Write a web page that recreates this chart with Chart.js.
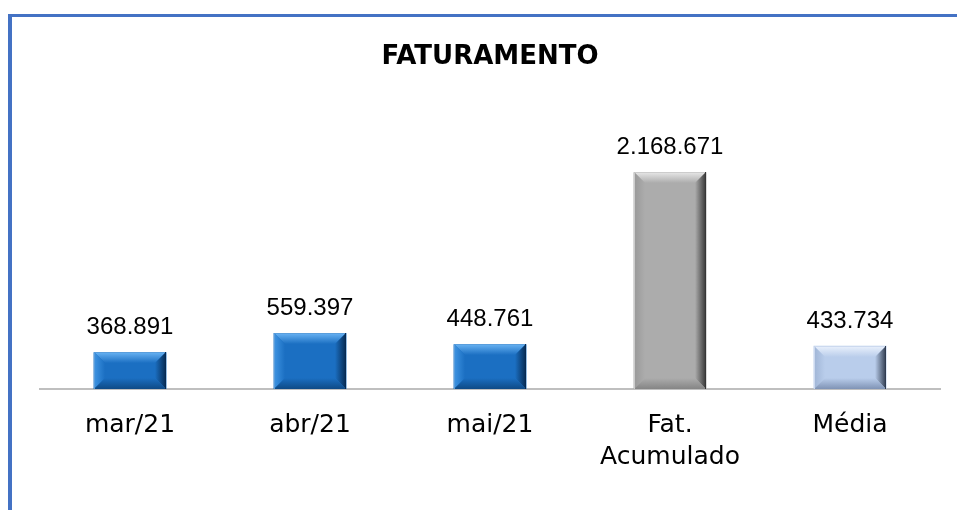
<!DOCTYPE html>
<html lang="pt-BR">
<head>
<meta charset="utf-8">
<title>Faturamento</title>
<script src="https://cdn.jsdelivr.net/npm/chart.js@4.4.1/dist/chart.umd.min.js"></script>
<style>
  html, body { margin: 0; padding: 0; background: #fff; }
  #quadro { position: relative; width: 957px; height: 510px; overflow: hidden; }
  #moldura { position: absolute; left: 8px; top: 14px; right: -10px; bottom: -10px;
             border-top: 3px solid #4472c4; border-left: 4px solid #4472c4; }
  #grafico { position: absolute; left: 0; top: 0; }
</style>
</head>
<body>
<div id="quadro">
  <div id="moldura"></div>
  <canvas id="grafico" width="957" height="510"></canvas>
</div>
<script>
// Dados do gráfico
const categorias = ['mar/21', 'abr/21', 'mai/21', ['Fat.', 'Acumulado'], 'Média'];
const valores = [368891, 559397, 448761, 2168671, 433734];
const tituloGrafico = 'FATURAMENTO';

// Paletas das barras (face, bisel topo, esquerda, direita, base)
const paletaAzul = { face: '#1b6fc2', topo: '#6ab4f4', esq: '#3f94e2', dir: '#062a52', base: '#0e4a86', borda: '#5a9edc' };
const paletaCinza = { face: '#acacac', topo: '#e8e8e8', esq: '#999999', dir: '#363636', base: '#858585', borda: '#cccccc' };
const paletaClara = { face: '#b9cdeb', topo: '#eaf1fc', esq: '#a0b5d6', dir: '#303c50', base: '#7f93b5', borda: '#ccd9ef' };
const paletas = [paletaAzul, paletaAzul, paletaAzul, paletaCinza, paletaClara];

// Formatar número no padrão brasileiro (ponto como separador de milhar)
function formatar(v) {
    return String(v).replace(/\B(?=(\d{3})+(?!\d))/g, '.');
}

// Desenhar um trapézio com degradê da borda para a face
function trapezio(ctx, pontos, gx0, gy0, gx1, gy1, corBorda, corFace) {
    const grad = ctx.createLinearGradient(gx0, gy0, gx1, gy1);
    grad.addColorStop(0, corBorda);
    grad.addColorStop(1, corFace);
    ctx.fillStyle = grad;
    ctx.beginPath();
    ctx.moveTo(pontos[0][0], pontos[0][1]);
    for (let i = 1; i < pontos.length; i++) {
        ctx.lineTo(pontos[i][0], pontos[i][1]);
    }
    ctx.closePath();
    ctx.fill();
}

// Plugin para o efeito de bisel nas barras
const biselBarras = {
    id: 'biselBarras',
    afterDatasetsDraw(chart) {
        const ctx = chart.ctx;
        const meta = chart.getDatasetMeta(0);
        ctx.save();
        meta.data.forEach(function (barra, i) {
            const c = paletas[i];
            const x0 = Math.round(barra.x - barra.width / 2);
            const x1 = Math.round(barra.x + barra.width / 2);
            const y0 = Math.round(barra.y);
            const y1 = Math.round(barra.base);
            const b = Math.min(11, (y1 - y0) / 3);

            ctx.fillStyle = c.face;
            ctx.fillRect(x0, y0, x1 - x0, y1 - y0);

            trapezio(ctx, [[x0, y0], [x1, y0], [x1 - b, y0 + b], [x0 + b, y0 + b]], x0, y0, x0, y0 + b, c.topo, c.face);
            trapezio(ctx, [[x0, y0], [x0 + b, y0 + b], [x0 + b, y1 - b], [x0, y1]], x0, y0, x0 + b, y0, c.esq, c.face);
            trapezio(ctx, [[x1, y0], [x1, y1], [x1 - b, y1 - b], [x1 - b, y0 + b]], x1, y0, x1 - b, y0, c.dir, c.face);
            trapezio(ctx, [[x0, y1], [x0 + b, y1 - b], [x1 - b, y1 - b], [x1, y1]], x0, y1, x0, y1 - b, c.base, c.face);

            ctx.lineWidth = 1;
            ctx.strokeStyle = c.borda;
            ctx.beginPath();
            ctx.moveTo(x0 + 0.5, y1);
            ctx.lineTo(x0 + 0.5, y0 + 0.5);
            ctx.lineTo(x1, y0 + 0.5);
            ctx.stroke();
            ctx.strokeStyle = c.dir;
            ctx.beginPath();
            ctx.moveTo(x1 - 0.5, y0);
            ctx.lineTo(x1 - 0.5, y1);
            ctx.stroke();
        });
        ctx.restore();
    }
};

// Plugin para os rótulos de valores acima das barras
const rotulosValores = {
    id: 'rotulosValores',
    afterDatasetsDraw(chart) {
        const ctx = chart.ctx;
        const meta = chart.getDatasetMeta(0);
        ctx.save();
        ctx.font = '24px "Liberation Sans"';
        ctx.fillStyle = '#000';
        ctx.textAlign = 'center';
        ctx.textBaseline = 'alphabetic';
        meta.data.forEach(function (barra, i) {
            ctx.fillText(formatar(valores[i]), barra.x, barra.y - 18);
        });
        ctx.restore();
    }
};

// Criar o gráfico
function criarGrafico() {
    const ctx = document.getElementById('grafico');
    new Chart(ctx, {
        type: 'bar',
        data: {
            labels: categorias,
            datasets: [{
                label: 'Faturamento',
                data: valores,
                backgroundColor: paletas.map(function (p) { return p.face; }),
                borderWidth: 0,
                barPercentage: 0.9,
                categoryPercentage: 0.45
            }]
        },
        options: {
            responsive: false,
            animation: false,
            devicePixelRatio: 1,
            layout: {
                padding: { left: 40, right: 17, top: 0, bottom: 16 }
            },
            plugins: {
                legend: { display: false },
                tooltip: { enabled: false },
                title: {
                    display: true,
                    text: tituloGrafico,
                    color: '#000',
                    font: { family: '"DejaVu Sans"', size: 26, weight: 'bold', lineHeight: 1.2 },
                    padding: { top: 42, bottom: 66 }
                }
            },
            scales: {
                x: {
                    grid: { display: false, drawTicks: false },
                    border: { display: true, color: '#bfbfbf', width: 2 },
                    ticks: {
                        color: '#000',
                        padding: 20,
                        maxRotation: 0,
                        autoSkip: false,
                        font: { family: '"DejaVu Sans"', size: 25, lineHeight: 1.3 }
                    }
                },
                y: {
                    display: false,
                    min: 0,
                    max: 2500000
                }
            }
        },
        plugins: [biselBarras, rotulosValores]
    });
}

criarGrafico();
</script>
</body>
</html>
